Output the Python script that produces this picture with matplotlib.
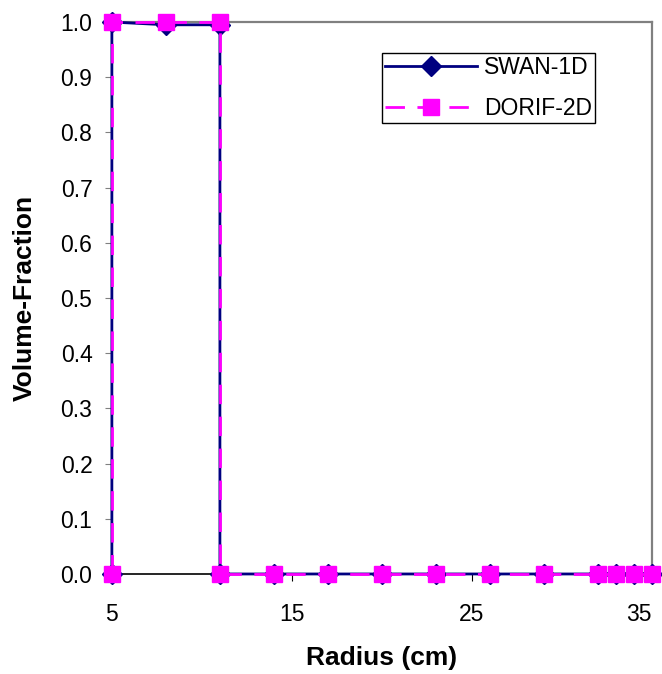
import numpy as np
import matplotlib.pyplot as plt
import matplotlib.transforms as mtransforms

plt.rcParams['font.family'] = ['Liberation Sans', 'DejaVu Sans']

# Data
radius = [5, 5, 8, 11, 11, 14, 17, 20, 23, 26, 29, 32, 33, 34, 35]
swan_1d = [0, 1.0, 0.995, 0.995, 0, 0, 0, 0, 0, 0, 0, 0, 0, 0, 0]
dorif_2d = [0, 1.0, 1.0, 1.0, 0, 0, 0, 0, 0, 0, 0, 0, 0, 0, 0]
x_ticks = [5, 15, 25, 35]
y_ticks = np.round(np.arange(0, 1.01, 0.1), 1)

fig = plt.figure(figsize=(6.62, 6.74), dpi=100)
ax = fig.add_axes([0.169, 0.1484, 0.816, 0.8189])

ax.plot(radius, swan_1d, color="#000080", linewidth=2, marker="D",
        markersize=10, label="SWAN-1D", clip_on=False, zorder=3)
ax.plot(radius, dorif_2d, color="#FF00FF", linewidth=2, linestyle=(0, (7, 4.5)),
        marker="s", markersize=12, label="DORIF-2D", clip_on=False, zorder=4)

ax.set_xlim(5, 35)
ax.set_ylim(0, 1)
ax.set_xticks(x_ticks)
ax.set_yticks(y_ticks)
ax.set_yticklabels([f"{v:.1f}" for v in y_ticks])
ax.tick_params(labelsize=16.5, direction="out", length=5)
ax.tick_params(axis="y", pad=9, color="#808080")
ax.tick_params(axis="x", pad=16)

# last x label pulled in so it stays inside the figure
last = ax.get_xticklabels()[-1]
last.set_transform(last.get_transform() +
                   mtransforms.ScaledTranslation(-13 / 100, 0, fig.dpi_scale_trans))

for s in ["top", "right"]:
    ax.spines[s].set_color("#808080")
    ax.spines[s].set_linewidth(1.6)
for s in ["left", "bottom"]:
    ax.spines[s].set_color("black")
    ax.spines[s].set_linewidth(1.2)

ax.set_xlabel("Radius (cm)", fontsize=19, fontweight="bold")
ax.set_ylabel("Volume-Fraction", fontsize=19, fontweight="bold")
ax.xaxis.set_label_coords(0.5, -0.13)
ax.yaxis.set_label_coords(-0.139, 0.5)

leg = ax.legend(loc="upper left", bbox_to_anchor=(382 / 662, 1 - 53 / 674),
                bbox_transform=fig.transFigure, fontsize=16.5,
                handlelength=4.0, handletextpad=0.3, fancybox=False,
                edgecolor="black", borderpad=0.15, labelspacing=0.75,
                borderaxespad=0, framealpha=1)
leg.get_frame().set_linewidth(1.0)

fig.savefig("out.png", dpi=100)
